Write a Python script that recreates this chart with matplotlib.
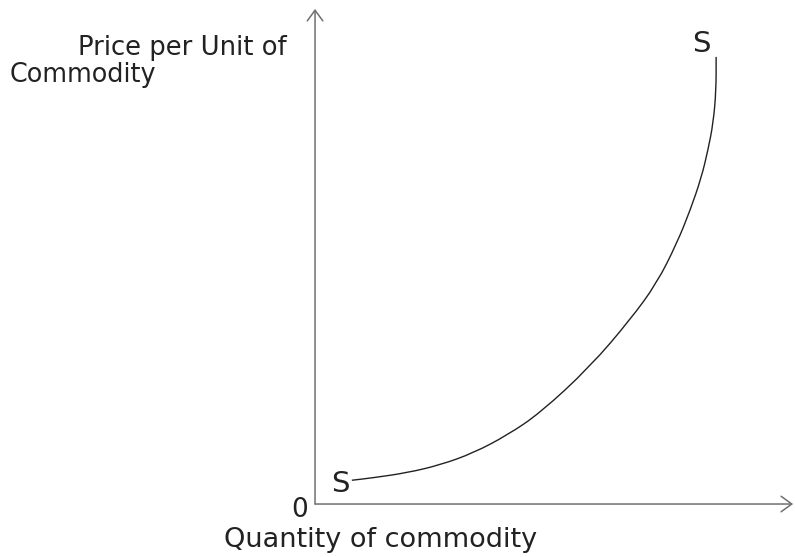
import matplotlib
matplotlib.use("Agg")
import matplotlib.pyplot as plt
from matplotlib.path import Path
from matplotlib.patches import PathPatch

# supply curve (quantity, price) on a 0-100 scale
quantity = [7.7, 12.1, 19.2, 26.2, 33.1, 40.2, 47.1, 57.5, 65.9,
            71.5, 75.7, 78.5, 80.8, 82.2, 83.3, 83.9, 83.9]
price = [4.8, 5.3, 6.3, 7.9, 10.3, 13.9, 18.4, 27.7, 37.2,
         44.6, 52.7, 59.4, 65.9, 71.5, 77.0, 83.6, 90.3]

y_label_lines = ["Price per Unit of", "Commodity"]
x_label = "Quantity of commodity"
curve_label = "S"
origin_label = "0"

fig = plt.figure(figsize=(7.95, 5.57), dpi=100)
ax = fig.add_axes([0, 0, 1, 1])
ax.set_xlim(-65.9, 100.4)
ax.set_ylim(-10.7, 101.8)
ax.axis("off")

axis_col = "#707070"
txt_col = "#222222"
arrow_kw = dict(arrowstyle="->,head_length=0.55,head_width=0.4",
                color=axis_col, lw=1.1, mutation_scale=14,
                shrinkA=0, shrinkB=0)
ax.annotate("", xy=(0, 100), xytext=(0, 0), arrowprops=arrow_kw)
ax.annotate("", xy=(100, 0), xytext=(0, 0), arrowprops=arrow_kw)

# smooth the read points with quadratic segments through the midpoints
pts = list(zip(quantity, price))
verts = [pts[0], ((pts[0][0] + pts[1][0]) / 2, (pts[0][1] + pts[1][1]) / 2)]
codes = [Path.MOVETO, Path.LINETO]
for i in range(1, len(pts) - 1):
    mid = ((pts[i][0] + pts[i + 1][0]) / 2, (pts[i][1] + pts[i + 1][1]) / 2)
    verts += [pts[i], mid]
    codes += [Path.CURVE3, Path.CURVE3]
verts.append(pts[-1])
codes.append(Path.LINETO)
ax.add_patch(PathPatch(Path(verts, codes), fill=False, edgecolor=txt_col, lw=1.0))

ax.text(-5.9, 90.7, y_label_lines[0], ha="right", va="baseline",
        fontsize=18.6, color=txt_col)
ax.text(-63.8, 85.3, y_label_lines[1], ha="left", va="baseline",
        fontsize=18.4, color=txt_col)
ax.text(-1.5, -2.6, origin_label, ha="right", va="baseline",
        fontsize=19, color=txt_col)
ax.text(-19.0, -8.7, x_label, ha="left", va="baseline",
        fontsize=19.5, color=txt_col)
ax.text(quantity[0] - 0.5, price[0] - 2.4, curve_label, ha="right",
        va="baseline", fontsize=21, color=txt_col)
ax.text(quantity[-1] - 1.2, price[-1] + 1.0, curve_label, ha="right",
        va="baseline", fontsize=21, color=txt_col)

fig.savefig("out.png", dpi=100)
